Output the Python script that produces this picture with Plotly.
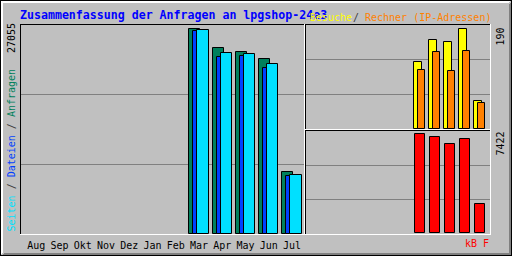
import plotly.graph_objects as go

months = ["Aug", "Sep", "Okt", "Nov", "Dez", "Jan", "Feb", "Mar", "Apr", "May", "Jun", "Jul"]
hits   = [None, None, None, None, None, None, None, 27055, 24530, 24000, 23070, 8195]
files  = [None, None, None, None, None, None, None, 26790, 23375, 23510, 21915, 7705]
pages  = [None, None, None, None, None, None, None, 27000, 23865, 23775, 22445, 7835]
visits = [None, None, None, None, None, None, None, 128, 169, 165, 190, 54]
sites  = [None, None, None, None, None, None, None, 112, 147, 110, 149, 50]
kbytes = [None, None, None, None, None, None, None, 7422, 7195, 6665, 7043, 2196]

title = "Zusammenfassung der Anfragen an lpgshop-24e3"
max_hits_label = "27055"
max_visits_label = "190"
max_kb_label = "7422"

W, H = 512, 256
BG = "#C0C0C0"
MONO = "DejaVu Sans Mono"


def X(p):
    return p / W


def Y(p):
    return 1 - p / H


xi = list(range(len(months)))
fig = go.Figure()


def bar(y, color, offset, width, xa, ya):
    fig.add_trace(go.Bar(
        x=xi, y=y, offset=offset, width=width, xaxis=xa, yaxis=ya,
        marker=dict(color=color, line=dict(color="black", width=1)),
        showlegend=False, hoverinfo="skip"))


bar(hits, "#00805C", -0.417, 0.473, "x", "y")
bar(files, "#0040FF", -0.245, 0.215, "x", "y")
bar(pages, "#00E0FF", -0.073, 0.49, "x", "y")
bar(visits, "#FFFF00", -0.367, 0.49, "x2", "y2")
bar(sites, "#FF8000", -0.10, 0.467, "x2", "y2")
bar(kbytes, "#FF0000", -0.32, 0.647, "x3", "y3")

R1, R2, R3 = 27630, 198.2, 7670
grid = dict(showgrid=True, gridcolor="#808080", gridwidth=1, zeroline=False,
            showticklabels=False, ticks="", fixedrange=True)
noax = dict(showgrid=False, zeroline=False, showticklabels=False, ticks="", fixedrange=True)

fig.update_layout(
    width=W, height=H, autosize=False,
    margin=dict(l=0, r=0, t=0, b=0, pad=0),
    paper_bgcolor=BG, plot_bgcolor=BG,
    barmode="overlay", bargap=0,
    xaxis=dict(domain=[X(20), X(304)], range=[-0.699, 11.516], anchor="y",
               showgrid=False, zeroline=False, tickvals=xi, ticktext=months,
               ticks="outside", ticklen=2, tickcolor="rgba(0,0,0,0)",
               tickfont=dict(family=MONO, size=10, color="black"), fixedrange=True),
    yaxis=dict(domain=[Y(234), Y(25)], range=[0, R1], tickvals=[R1 / 3, 2 * R1 / 3], anchor="x", **grid),
    xaxis2=dict(domain=[X(305), X(490)], range=[-0.653, 11.68], anchor="y2", **noax),
    yaxis2=dict(domain=[Y(129), Y(25)], range=[0, R2], tickvals=[R2 / 3, 2 * R2 / 3], anchor="x2", **grid),
    xaxis3=dict(domain=[X(305), X(490)], range=[-0.653, 11.68], anchor="y3", **noax),
    yaxis3=dict(domain=[Y(233), Y(131)], range=[0, R3], tickvals=[R3 / 3, 2 * R3 / 3], anchor="x3", **grid),
)

shapes = []


def line(x0, y0, x1, y1, color):
    shapes.append(dict(type="line", xref="paper", yref="paper",
                       x0=X(x0), y0=Y(y0), x1=X(x1), y1=Y(y1),
                       line=dict(color=color, width=1), layer="above"))


# outer frame with bevel
line(0.5, 0, 0.5, 256, "black")
line(0, 0.5, 512, 0.5, "black")
line(511.5, 0, 511.5, 256, "black")
line(0, 255.5, 512, 255.5, "black")
for d in (1.5, 2.5):
    line(d, 1, d, 255 - d + 0.5, "white")
    line(1, d, 511 - d + 0.5, d, "white")
for d in (253.5, 254.5):
    line(3 + (254.5 - d), d, 511, d, "#808080")
for d in (509.5, 510.5):
    line(d, 3 + (510.5 - d), d, 255, "#808080")

# panel frames: black top/left, white bottom/right
panels = [(20, 24, 304, 234), (305, 24, 490, 129), (305, 130, 490, 234)]
for x0, y0, x1, y1 in panels:
    line(x0, y0 + 0.5, x1, y0 + 0.5, "black")
    line(x0 + 0.5, y0, x0 + 0.5, y1, "black")
    line(x0, y1 + 0.5, x1 + 1, y1 + 0.5, "white")
    line(x1 + 0.5, y0, x1 + 0.5, y1 + 1, "white")

fig.update_layout(shapes=shapes)

ann = []


def text(t, x, y, color, size=10, xanchor="center", angle=0, bold=False):
    s = "<b>%s</b>" % t if bold else t
    ann.append(dict(text=s, xref="paper", yref="paper", x=X(x), y=Y(y),
                    xanchor=xanchor, yanchor="middle", showarrow=False,
                    textangle=angle, borderpad=0,
                    font=dict(family=MONO, size=size, color=color)))


text(title, 19, 15, "#0000FF", size=11.6, xanchor="left", bold=True)
text("Besuche", 309, 17, "#FFFF00", xanchor="left")
text("/", 356, 17, "#404040")
text("Rechner (IP-Adressen)", 364, 17, "#FF8000", xanchor="left")
text(max_hits_label, 11, 38, "black", angle=-90)
text('<span style="color:#00E0FF">Seiten</span> / <span style="color:#0040FF">Dateien</span>'
     ' / <span style="color:#00805C">Anfragen</span>', 11, 150.5, "#404040", angle=-90)
text(max_visits_label, 500, 36.5, "black", angle=-90)
text(max_kb_label, 500, 143.5, "black", angle=-90)
text("kB F", 490, 243, "#FF0000", xanchor="right")

fig.update_layout(annotations=ann)
fig.write_html("out.html")
